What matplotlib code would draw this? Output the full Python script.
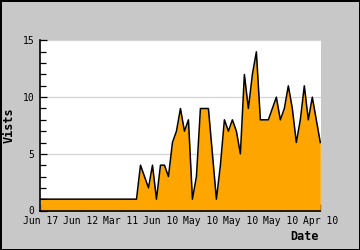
import matplotlib
matplotlib.use("Agg")
import matplotlib.pyplot as plt
from matplotlib.ticker import MultipleLocator

# visits per period (index = position on the date axis)
visits = [1] * 24 + [
    1, 4, 3, 2, 4, 1, 4, 4, 3, 6,
    7, 9, 7, 8, 1, 3, 9, 9, 9, 5,
    1, 4, 8, 7, 8, 7, 5, 12, 9, 12,
    14, 8, 8, 8, 9, 10, 8, 9, 11, 9,
    6, 8, 11, 8, 10, 8, 6,
]
tick_pos = [0, 10, 20, 30, 40, 50, 60, 70]
tick_labels = ["Jun 17", "Jun 12", "Mar 11", "Jun 10", "May 10", "May 10", "May 10", "Apr 10"]

x = list(range(len(visits)))

plt.rcParams['font.family'] = ['DejaVu Sans Mono']

fig = plt.figure(figsize=(3.6, 2.5), dpi=100, facecolor="#c8c8c8",
                 edgecolor="black", linewidth=1.0)
ax = fig.add_axes([40 / 360, 1 - 210.5 / 250, 280.5 / 360, 170 / 250])
ax.set_facecolor("white")

ax.fill_between(x, visits, 0, color="#ffa500", linewidth=0, zorder=2)
ax.plot(x, visits, color="black", linewidth=1.1, zorder=3)

ax.set_xlim(-0.15, 70.05)
ax.set_ylim(0, 15)

ax.yaxis.set_major_locator(MultipleLocator(5))
ax.yaxis.set_minor_locator(MultipleLocator(1))
ax.grid(axis="y", which="major", color="#d4d4d4", linewidth=0.9, zorder=1)

ax.set_xticks(tick_pos)
ax.set_xticklabels(tick_labels)
ax.tick_params(axis="both", which="both", direction="in", labelsize=7, colors="black")
ax.tick_params(axis="both", which="major", length=5, width=0.9)
ax.tick_params(axis="y", which="minor", length=4, width=0.9)
ax.tick_params(axis="x", pad=4)
ax.tick_params(axis="y", pad=4)

for side in ["top", "right"]:
    ax.spines[side].set_visible(False)
for side in ["left", "bottom"]:
    ax.spines[side].set_linewidth(1.2)

fig.text(319 / 360, 1 - 236 / 250, "Date", ha="right", va="center",
         fontsize=8.5, fontweight="bold")
fig.text(9.5 / 360, 1 - 125.5 / 250, "Vists", ha="center", va="center",
         rotation=90, fontsize=8.5, fontweight="bold")

fig.savefig("out.png", dpi=100, facecolor=fig.get_facecolor(), edgecolor="black")
